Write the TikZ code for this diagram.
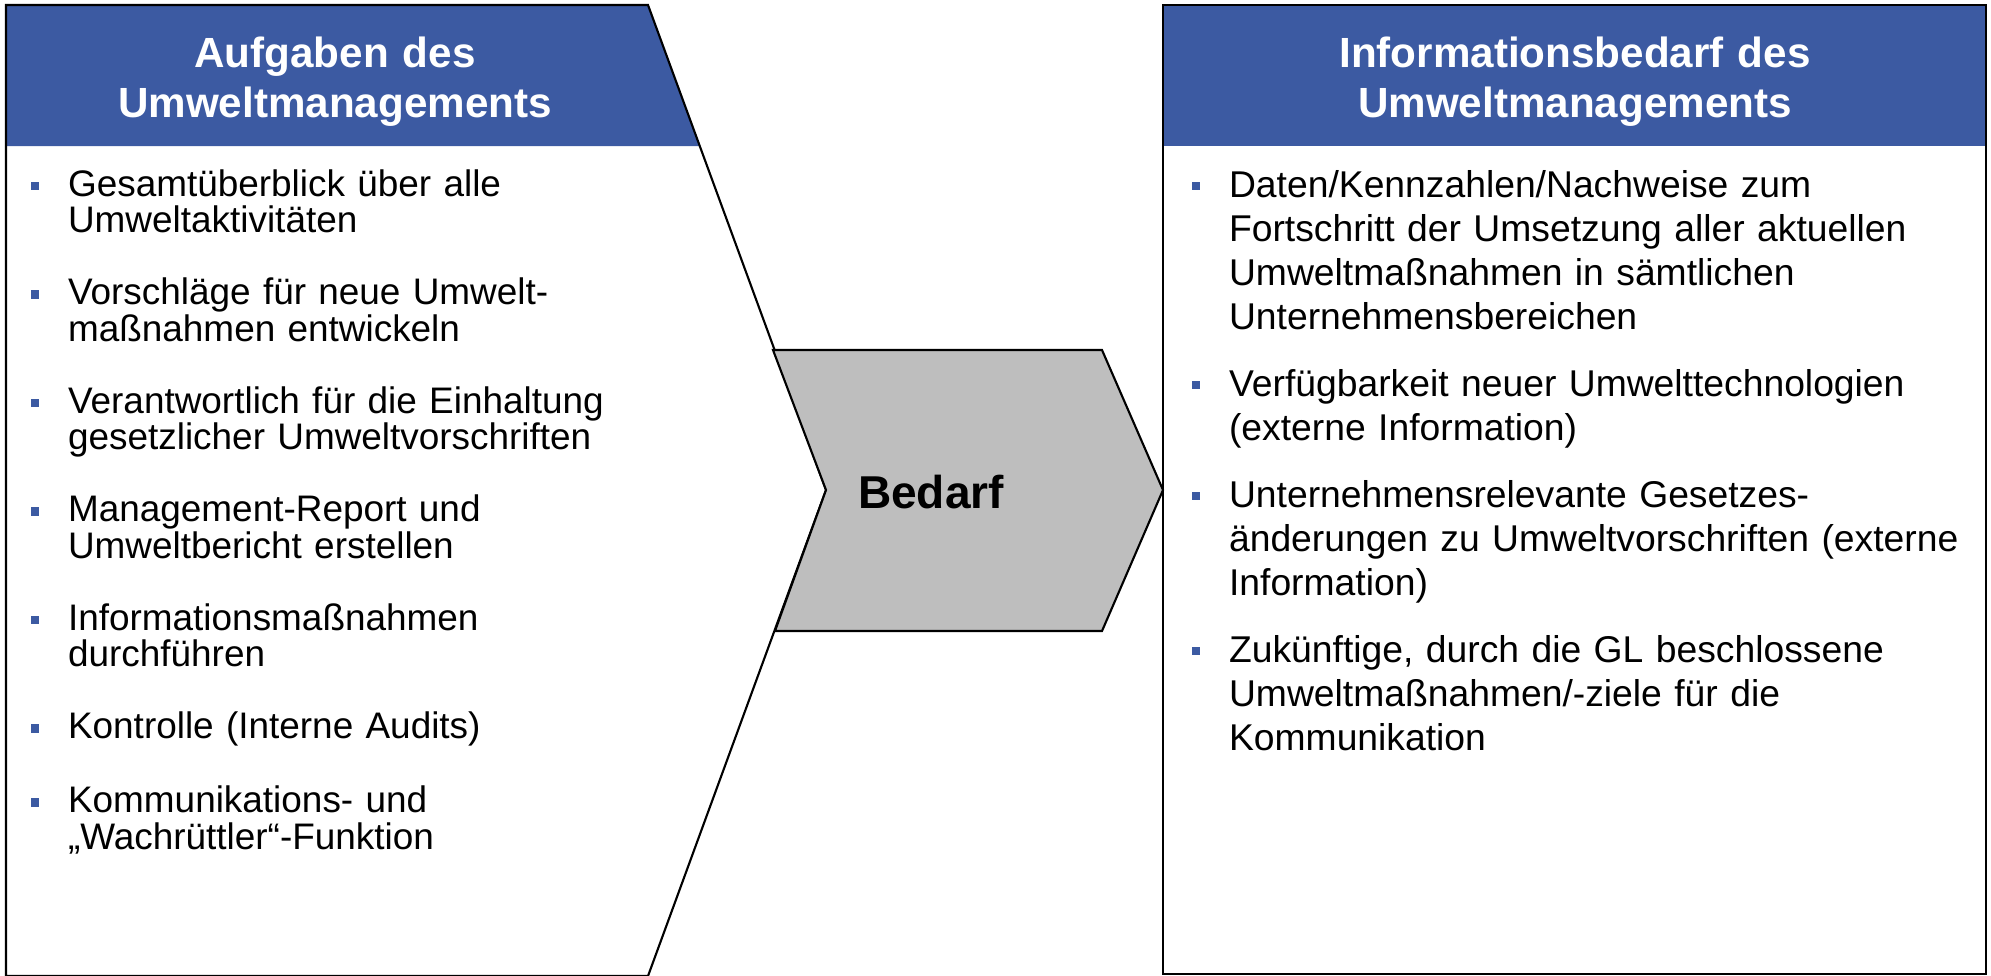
\documentclass[tikz,border=0pt]{standalone}
\usepackage{fontspec}
\setmainfont{Liberation Sans}
\usepackage{tikz}
\usetikzlibrary{positioning,calc}
\definecolor{hdblue}{RGB}{60,90,162}
\definecolor{chevgray}{RGB}{190,190,190}

\begin{document}
\begin{tikzpicture}[x=0.01cm,y=-0.01cm,line width=0.6pt,
    hdtext/.style={anchor=base,text=white,text width=7.4cm,align=center,inner sep=0pt,font=\fontsize{12}{14.5}\selectfont\bfseries},
    itemL/.style={anchor=base west,text width=6.2cm,align=left,inner sep=0pt,font=\fontsize{10.5}{10.44}\selectfont},
    itemR/.style={anchor=base west,text width=8.2cm,align=left,inner sep=0pt,font=\fontsize{10.6}{12.52}\selectfont},
    blt/.style={fill=hdblue,minimum size=0.085cm,inner sep=0pt}]
    \useasboundingbox (0,0) rectangle (1991,975);
    % left panel
    \fill[hdblue] (6,5) -- (648,5) -- (700,146) -- (6,146) -- cycle;
    \draw (6,5) -- (648,5) -- (826,490) -- (648,976) -- (6,976) -- cycle;
    \node[hdtext] (hl) at (335,67) {Aufgaben des\\Umweltmanagements};
    % right panel
    \fill[hdblue] (1163,5) rectangle (1986,146);
    \draw (1163,5) rectangle (1986,974);
    \node[hdtext] (hr) at (1575,67) {Informationsbedarf des\\Umweltmanagements};
    % chevron
    \draw[fill=chevgray] (773,350) -- (1102,350) -- (1163,490) -- (1102,631) -- (775,631) -- (826,490) -- cycle;
    \node[anchor=base west,inner sep=0pt,font=\fontsize{13.1}{15}\selectfont\bfseries] (bedarf) at (857,508) {Bedarf};

    \node[itemL] (a1) at (67,196) {Gesamtüberblick über alle\\Umweltaktivitäten};
    \node[itemL] (a2) at (67,304.5) {Vorschläge für neue Umwelt-\\maßnahmen entwickeln};
    \node[itemL] (a3) at (67,413) {Verantwortlich für die Einhaltung\\gesetzlicher Umweltvorschriften};
    \node[itemL] (a4) at (67,521.5) {Management-Report und\\Umweltbericht erstellen};
    \node[itemL] (a5) at (67,630) {Informationsmaßnahmen\\durchführen};
    \node[itemL] (a6) at (67,738.5) {Kontrolle (Interne Audits)};
    \node[itemL] (a7) at (67,812.5) {Kommunikations- und\\„Wachrüttler“-Funktion};
    \foreach \y [count=\i] in {196,304.5,413,521.5,630,738.5,812.5}
        \node[blt] (bl\i) at (35,\y-10) {};

    \node[itemR] (b1) at (1228,197) {Daten/Kennzahlen/Nachweise zum\\Fortschritt der Umsetzung aller aktuellen\\Umweltmaßnahmen in sämtlichen\\Unternehmensbereichen};
    \node[itemR] (b2) at (1228,396) {Verfügbarkeit neuer Umwelttechnologien\\(externe Information)};
    \node[itemR] (b3) at (1228,507) {Unternehmensrelevante Gesetzes-\\änderungen zu Umweltvorschriften (externe\\Information)};
    \node[itemR] (b4) at (1228,662) {Zukünftige, durch die GL beschlossene\\Umweltmaßnahmen/-ziele für die\\Kommunikation};
    \foreach \y [count=\i] in {197,396,507,662}
        \node[blt] (br\i) at (1196,\y-11) {};
\end{tikzpicture}
\end{document}
